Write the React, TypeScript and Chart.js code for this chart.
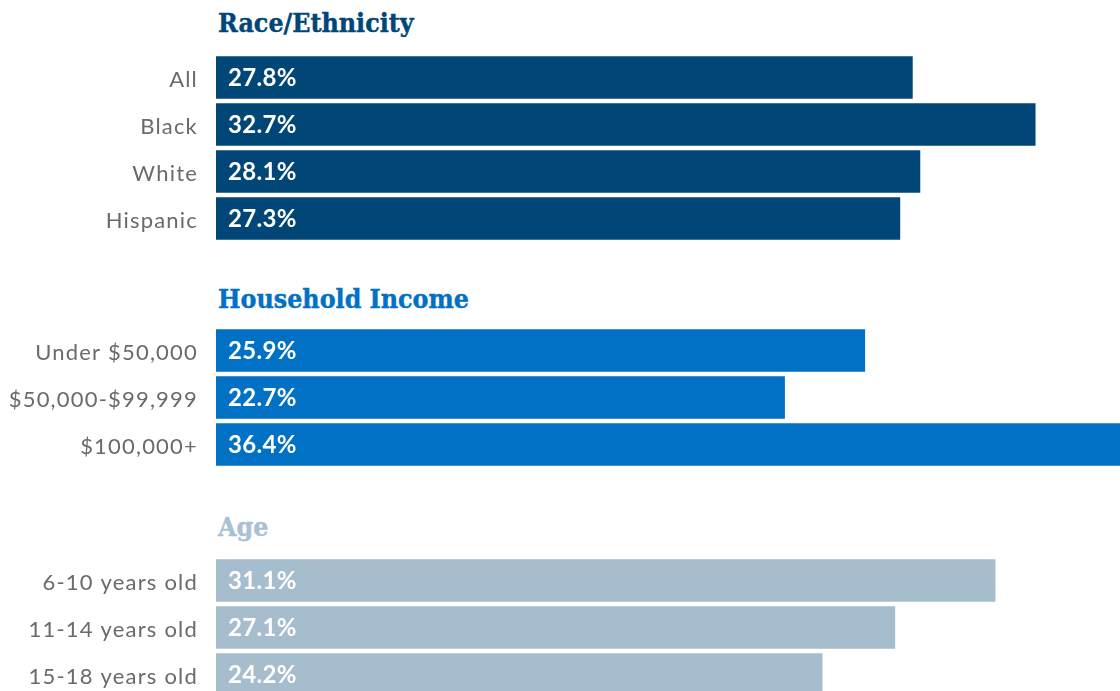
import React, { useEffect, useRef } from "react";
import { Chart, registerables } from "chart.js";

Chart.register(...registerables);

// ---- data ----
const raceLabels = ["All", "Black", "White", "Hispanic"];
const raceValues = [27.8, 32.7, 28.1, 27.3];

const incomeLabels = ["Under $50,000", "$50,000-$99,999", "$100,000+"];
const incomeValues = [25.9, 22.7, 36.4];

const ageLabels = ["6-10 years old", "11-14 years old", "15-18 years old"];
const ageValues = [31.1, 27.1, 24.2];

const groupTitles = ["Race/Ethnicity", "Household Income", "Age"];

// ---- style ----
const X_MAX = 36.07;
const AXIS_WIDTH = 216;
const ROW = 47;
const COLORS = ["#004677", "#0071C5", "#A6BDCD"];
const HEAD_COLORS = ["#004677", "#0071C5", "#A9C1D4"];
const LABEL_COLOR = "#6a6a6a";

const valueLabelPlugin = {
  id: "valueLabels",
  beforeDraw(chart: any) {
    chart.ctx.letterSpacing = "1.2px";
  },
  afterDatasetsDraw(chart: any) {
    const { ctx, chartArea } = chart;
    const meta = chart.getDatasetMeta(0);
    const data = chart.data.datasets[0].data as number[];
    ctx.save();
    ctx.letterSpacing = "0.3px";
    ctx.font = "bold 24px Lato";
    ctx.fillStyle = "#ffffff";
    ctx.textAlign = "left";
    ctx.textBaseline = "middle";
    meta.data.forEach((bar: any, i: number) => {
      ctx.fillText(data[i].toFixed(1) + "%", chartArea.left + 12, bar.y + 1);
    });
    ctx.restore();
  },
};

function BarGroup(props: {
  labels: string[];
  values: number[];
  color: string;
  top: number;
}) {
  const ref = useRef<HTMLCanvasElement | null>(null);
  useEffect(() => {
    if (!ref.current) return;
    const chart = new Chart(ref.current, {
      type: "bar",
      data: {
        labels: props.labels,
        datasets: [
          {
            data: props.values,
            backgroundColor: props.color,
            borderWidth: 0,
            barPercentage: 0.9,
            categoryPercentage: 1,
          },
        ],
      },
      options: {
        indexAxis: "y",
        responsive: true,
        maintainAspectRatio: false,
        animation: false,
        layout: { padding: 0 },
        plugins: {
          legend: { display: false },
          tooltip: { enabled: false },
          title: { display: false },
        },
        scales: {
          x: { type: "linear", min: 0, max: X_MAX, display: false },
          y: {
            type: "category",
            grid: { display: false, drawTicks: false },
            border: { display: false },
            ticks: {
              color: LABEL_COLOR,
              font: { family: "Lato", size: 22 },
              padding: 18,
              labelOffset: 2,
              autoSkip: false,
            },
            afterFit(scale: any) {
              scale.width = AXIS_WIDTH;
              scale.paddingTop = 0;
              scale.paddingBottom = 0;
            },
          },
        },
      },
      plugins: [valueLabelPlugin],
    } as any);
    return () => chart.destroy();
  }, []);
  const h = props.labels.length * ROW;
  return (
    <div
      style={{
        position: "absolute",
        left: 0,
        top: props.top,
        width: 1120,
        height: h,
      }}
    >
      <canvas ref={ref} />
    </div>
  );
}

function Heading(props: { text: string; color: string; top: number }) {
  return (
    <div
      style={{
        position: "absolute",
        left: 218,
        top: props.top,
        fontFamily: "'DejaVu Serif Condensed', 'DejaVu Serif', serif",
        fontStretch: "condensed",
        fontWeight: "bold",
        fontSize: 26.5,
        lineHeight: "26.5px",
        color: props.color,
        whiteSpace: "nowrap",
        WebkitTextStroke: `0.4px ${props.color}`,
      }}
    >
      {props.text}
    </div>
  );
}

export default function App() {
  useEffect(() => {
    document.body.style.margin = "0";
    document.body.style.overflow = "hidden";
  }, []);
  return (
    <div
      style={{
        position: "absolute",
        left: 0,
        top: 0,
        width: 1120,
        height: 691,
        overflow: "hidden",
        background: "#ffffff",
      }}
    >
      <Heading text={groupTitles[0]} color={HEAD_COLORS[0]} top={10} />
      <BarGroup labels={raceLabels} values={raceValues} color={COLORS[0]} top={54} />
      <Heading text={groupTitles[1]} color={HEAD_COLORS[1]} top={285.5} />
      <BarGroup labels={incomeLabels} values={incomeValues} color={COLORS[1]} top={327} />
      <Heading text={groupTitles[2]} color={HEAD_COLORS[2]} top={514} />
      <BarGroup labels={ageLabels} values={ageValues} color={COLORS[2]} top={557} />
    </div>
  );
}
